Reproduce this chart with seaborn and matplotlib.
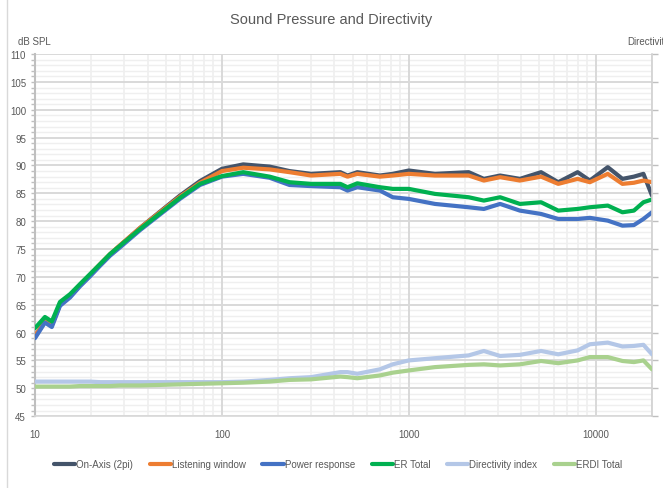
import numpy as np
import pandas as pd
import seaborn as sns
import matplotlib.pyplot as plt
from matplotlib.ticker import MultipleLocator, FixedLocator, LogLocator, NullFormatter
from matplotlib.lines import Line2D

# Frequency points (Hz)
freq = [10, 11.3, 12.3, 13.6, 15.4, 17.4, 19.7, 22.3, 25.2, 28.5, 36.5, 46.6, 59.6, 76.3,
        100, 130, 180, 230, 300, 430, 470, 530, 700, 820, 1000, 1380, 2090, 2520, 3080,
        3930, 5100, 6300, 8000, 9300, 11600, 13900, 16000, 18000, 20000]

# Left axis (dB SPL)
on_axis = [59.2, 62.0, 61.3, 65.0, 66.5, 68.5, 70.3, 72.2, 74.0, 75.6, 78.8, 81.7, 84.6, 87.2,
           89.4, 90.2, 89.8, 89.0, 88.5, 88.8, 88.2, 88.8, 88.2, 88.5, 89.1, 88.5, 88.8, 87.6,
           88.2, 87.6, 88.8, 87.0, 88.8, 87.3, 89.7, 87.6, 88.0, 88.5, 84.6]
listening = [59.4, 62.1, 61.4, 65.1, 66.6, 68.6, 70.4, 72.3, 74.1, 75.7, 78.8, 81.6, 84.4, 86.9,
             89.0, 89.6, 89.3, 88.8, 88.2, 88.5, 88.0, 88.5, 88.0, 88.2, 88.5, 88.2, 88.2, 87.3,
             87.9, 87.3, 88.0, 86.7, 87.6, 87.0, 88.5, 86.7, 86.9, 87.3, 87.0]
power = [59.0, 61.8, 61.0, 64.8, 66.3, 68.3, 70.1, 72.0, 73.8, 75.3, 78.4, 81.2, 84.0, 86.5,
         88.0, 88.5, 87.8, 86.5, 86.3, 86.1, 85.5, 86.1, 85.5, 84.3, 84.0, 83.1, 82.5, 82.2,
         83.1, 81.9, 81.3, 80.4, 80.4, 80.6, 80.1, 79.2, 79.3, 80.4, 81.6]
er_total = [60.8, 62.8, 62.0, 65.5, 66.9, 68.7, 70.5, 72.3, 74.1, 75.6, 78.6, 81.4, 84.2, 86.7,
            88.1, 88.8, 88.0, 87.0, 86.7, 86.7, 86.1, 86.8, 86.1, 85.8, 85.8, 84.9, 84.3, 83.7,
            84.3, 83.1, 83.4, 81.9, 82.2, 82.5, 82.8, 81.6, 81.9, 83.4, 83.9]

# Right axis (Directivity, dB)
di = [1.2, 1.2, 1.2, 1.2, 1.2, 1.2, 1.2, 1.1, 1.1, 1.1, 1.1, 1.1, 1.1, 1.1,
      1.1, 1.2, 1.5, 1.8, 2.0, 2.9, 2.9, 2.6, 3.4, 4.3, 5.0, 5.4, 5.9, 6.7,
      5.8, 6.0, 6.7, 6.1, 6.8, 7.9, 8.2, 7.5, 7.6, 7.8, 6.1]
erdi = [0.3, 0.3, 0.3, 0.3, 0.3, 0.4, 0.4, 0.4, 0.4, 0.5, 0.5, 0.6, 0.7, 0.8,
        0.9, 1.0, 1.2, 1.5, 1.6, 2.1, 2.0, 1.8, 2.3, 2.8, 3.2, 3.8, 4.2, 4.3,
        4.1, 4.3, 4.9, 4.5, 5.0, 5.6, 5.6, 4.9, 4.7, 5.0, 3.4]

left_series = {
    'On-Axis (2pi)': (on_axis, '#44546A'),
    'Listening window': (listening, '#ED7D31'),
    'Power response': (power, '#4472C4'),
    'ER Total': (er_total, '#00B050'),
}
right_series = {
    'Directivity index': (di, '#B4C7E7'),
    'ERDI Total': (erdi, '#A9D18E'),
}
decades = [10, 100, 1000, 10000]

sns.set_theme(style='white')
plt.rcParams['font.family'] = ['Liberation Sans', 'DejaVu Sans']
txt = '#595959'

fig = plt.figure(figsize=(6.63, 4.89), dpi=100)
ax = fig.add_axes([0.0528, 0.147, 0.9306, 0.7403])
ax.set_xscale('log')
ax2 = ax.twinx()

handles = []
for name, (vals, col) in left_series.items():
    df = pd.DataFrame({'freq': freq, 'val': vals})
    sns.lineplot(data=df, x='freq', y='val', ax=ax, color=col, lw=3, legend=False, zorder=3)
    handles.append(Line2D([], [], color=col, lw=3, label=name))
for name, (vals, col) in right_series.items():
    df = pd.DataFrame({'freq': freq, 'val': vals})
    sns.lineplot(data=df, x='freq', y='val', ax=ax2, color=col, lw=3, legend=False, zorder=3)
    handles.append(Line2D([], [], color=col, lw=3, label=name))

ax.set_xlim(10, 20000)
ax.set_ylim(45, 110)
ax2.set_ylim(-5, 60)

ax.yaxis.set_major_locator(MultipleLocator(5))
ax.yaxis.set_minor_locator(MultipleLocator(1))
ax2.yaxis.set_major_locator(MultipleLocator(5))
ax.xaxis.set_major_locator(FixedLocator(decades))
ax.xaxis.set_minor_locator(LogLocator(base=10, subs=np.arange(2, 10)))
ax.xaxis.set_minor_formatter(NullFormatter())
ax.set_xticklabels([str(d) for d in decades])

# horizontal grid (major + minor), minor verticals; major verticals drawn on top
ax.yaxis.grid(True, which='major', color='#D9D9D9', lw=1.4)
ax.yaxis.grid(True, which='minor', color='#EFEFEF', lw=1.0)
ax.xaxis.grid(True, which='minor', color='#EFEFEF', lw=1.2)
ax.set_axisbelow(True)
for d in decades[1:]:
    ax.axvline(d, color='#D9D9D9', lw=1.4, zorder=1)
ax2.grid(False)
ax2.patch.set_visible(False)

for a in (ax, ax2):
    for s in a.spines.values():
        s.set_visible(False)
ax.spines['left'].set_visible(True)
ax.spines['left'].set_color('#BFBFBF')
ax.spines['left'].set_linewidth(1.5)
ax.spines['bottom'].set_visible(True)
ax.spines['bottom'].set_color('#D9D9D9')
ax2.spines['right'].set_visible(True)
ax2.spines['right'].set_color('#D0D0D0')
ax2.spines['right'].set_linewidth(1.2)

ax.tick_params(axis='both', which='both', colors='#BFBFBF', labelcolor=txt, labelsize=7,
               direction='out', length=3, width=1)
ax.tick_params(axis='x', which='major', pad=6)
ax2.tick_params(axis='y', which='both', colors='#BFBFBF', labelcolor=txt, labelsize=7,
                direction='out', length=4, width=1)
ax.set_xlabel('')
ax.set_ylabel('')
ax2.set_ylabel('')

fig.text(0.5, 1 - 20 / 489, 'Sound Pressure and Directivity', ha='center', va='center',
         fontsize=10.5, color=txt)
fig.text(18 / 663, 1 - 42 / 489, 'dB SPL', ha='left', va='center', fontsize=7, color=txt)
fig.text(627 / 663, 1 - 42 / 489, 'Directivity', ha='left', va='center', fontsize=7, color=txt)

fig.add_artist(Line2D([7 / 663, 7 / 663], [0, 1], color='#D9D9D9', lw=1))

fig.legend(handles=handles, loc='center', bbox_to_anchor=(0.51, 1 - 465 / 489), ncol=6,
           frameon=False, fontsize=7, handlelength=2.2, handletextpad=0.1,
           columnspacing=1.7, labelcolor=txt)

fig.savefig('out.png', dpi=100)
